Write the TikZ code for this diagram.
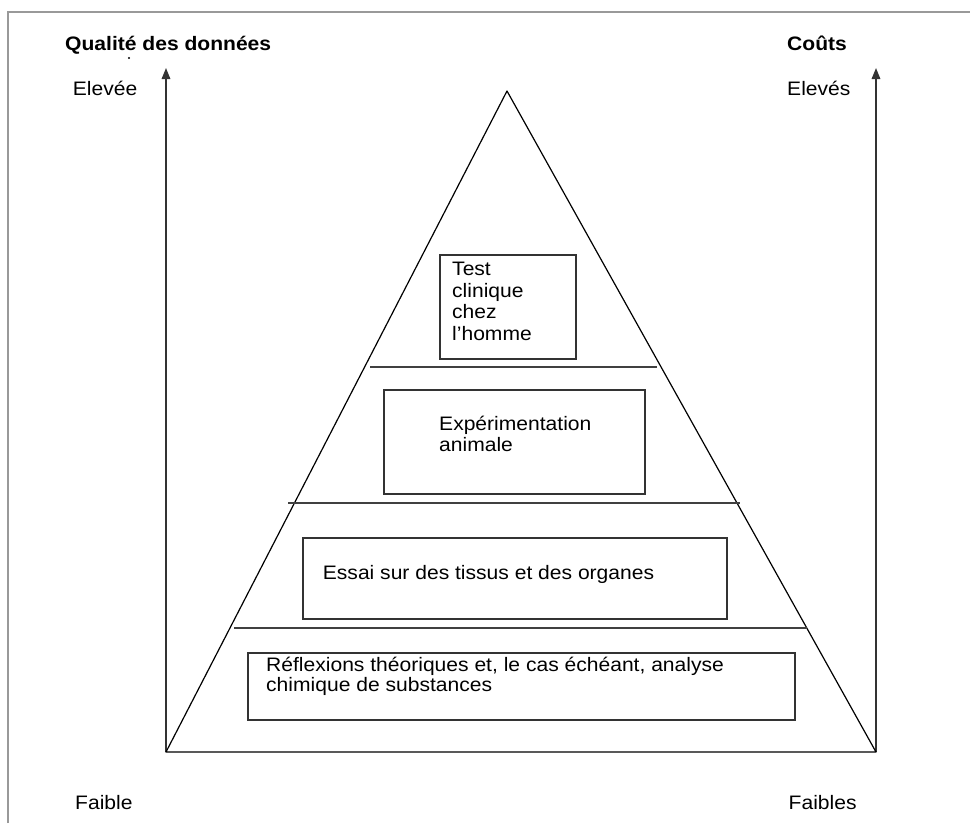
\documentclass[tikz,border=0pt]{standalone}
\usepackage{fontspec}
\setmainfont{Liberation Sans}[FakeStretch=1.08]
\usetikzlibrary{arrows.meta}

\begin{document}
\begin{tikzpicture}[x=1pt, y=-1pt]
        \tikzstyle{every node}=[inner sep=0pt, font=\fontsize{19.5}{21.5}\selectfont]
        \tikzstyle{txt}=[anchor=base west, align=left]
        \tikzstyle{head}=[txt, font=\fontsize{19.5}{21.5}\selectfont\bfseries]
        \tikzstyle{box}=[draw=black!80, line width=1.6pt, anchor=north west]
        \tikzstyle{axis}=[draw=black!80, line width=1.6pt, -{Triangle[length=11pt, width=8.5pt]}]
        \tikzstyle{level}=[draw=black!75, line width=1.3pt]
        \useasboundingbox (0,0) rectangle (970,823);
        \draw[black!40, line width=1.2pt] (8,823) -- (8,12) -- (970,12);
        \coordinate (apex) at (507,91);
        \coordinate (bl) at (166,752);
        \coordinate (br) at (876,752);
        \coordinate (ltop) at (166,68);
        \coordinate (rtop) at (876,68);
        \draw[axis] (bl) -- (ltop);
        \draw[axis] (br) -- (rtop);
        \draw[line width=1.2pt, line join=round] (bl) -- (apex) -- (br) -- cycle;
        \draw[level] (370,367) -- (657,367);
        \draw[level] (288,503) -- (740,503);
        \draw[level] (234,628) -- (807,628);
        \fill (129,58) circle (1.2pt);
        \node[head] (quality) at (65,50) {Qualité des données};
        \node[head] (costs) at (787,50) {Coûts};
        \node[txt] (qhigh) at (72.7,95.7) {Elevée};
        \node[txt] (chigh) at (787,95.7) {Elevés};
        \node[txt] (qlow) at (75,809) {Faible};
        \node[txt] (clow) at (788.5,809) {Faibles};
        \node[box, minimum width=136pt, minimum height=104pt] (clinicbox) at (439,254) {};
        \node[box, minimum width=261pt, minimum height=104pt] (animalbox) at (383,389) {};
        \node[box, minimum width=424pt, minimum height=81pt] (tissuebox) at (302,537) {};
        \node[box, minimum width=547pt, minimum height=67pt] (theorybox) at (247,652) {};
        \node[txt] (clinic) at (452,340.2) {Test\\clinique\\chez\\l’homme};
        \node[txt] (animal) at (439,451.5) {Expérimentation\\animale};
        \node[txt] (tissue) at (322.7,579.3) {Essai sur des tissus et des organes};
        \node[txt] (theory) at (266,691.2) {Réflexions théoriques et, le cas échéant, analyse\\[-2pt]chimique de substances};
\end{tikzpicture}
\end{document}
